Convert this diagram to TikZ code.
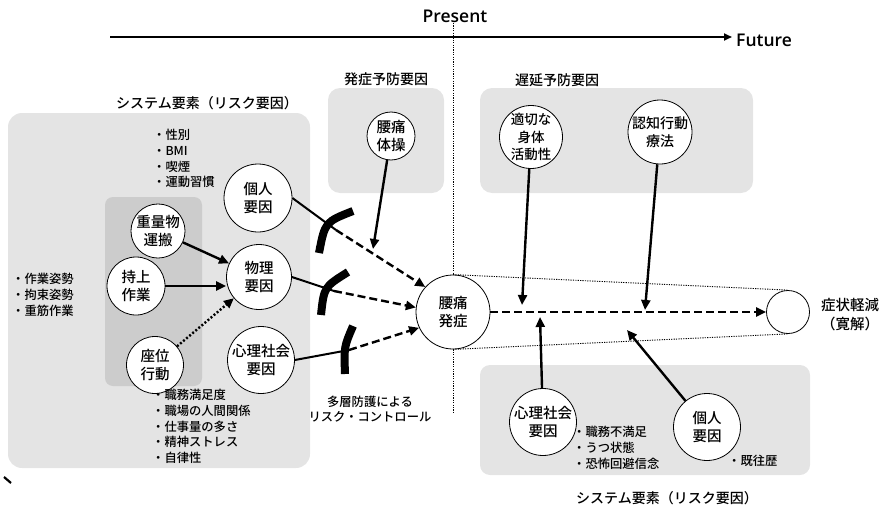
\documentclass[tikz,border=0pt]{standalone}
\usepackage{fontspec}
\setmainfont{Noto Sans CJK JP}[UprightFont=* Medium]
\newfontfamily\latinfont{Open Sans}[UprightFont=* Semibold]
\usetikzlibrary{arrows.meta}
\definecolor{boxgray}{RGB}{228,228,228}
\definecolor{innergray}{RGB}{204,204,204}
\begin{document}
\begin{tikzpicture}[x=1pt,y=-1pt,
  circ/.style={circle, draw, fill=white, line width=0.8pt, inner sep=0pt, align=center,
    font=\fontsize{14.5}{18.5}\selectfont},
  listtxt/.style={inner sep=0pt, align=left, anchor=north west,
    font=\fontsize{12.3}{15.8}\selectfont},
  ttl/.style={inner sep=0pt, font=\fontsize{14}{16}\selectfont},
  arr/.style={line width=2.4pt, -{Triangle[length=10pt,width=9pt]}},
  darr/.style={arr, dash pattern=on 8pt off 4pt},
  dotarr/.style={arr, dash pattern=on 2pt off 2pt},
  solidln/.style={line width=2pt},
  barrier/.style={line width=8pt, line cap=butt},
  thindot/.style={line width=0.9pt, dash pattern=on 1.2pt off 1.2pt},
]
\useasboundingbox (0,0) rectangle (894,511);

% boxes
\fill[boxgray, rounded corners=14pt] (8,113) rectangle (310,468);
\fill[innergray, rounded corners=8pt] (105,197) rectangle (202,386);
\fill[boxgray, rounded corners=12pt] (328,88) rectangle (444,193);
\fill[boxgray, rounded corners=12pt] (480,88) rectangle (753,193);
\fill[boxgray, rounded corners=10pt] (480,365) rectangle (810,475);

% titles
\node[ttl] (tsys) at (207,103) {システム要素（リスク要因）};
\node[ttl] (tonset) at (386,79) {発症予防要因};
\node[ttl] (tdelay) at (557,80) {遅延予防要因};
\node[ttl] (tsysR) at (667,498) {システム要素（リスク要因）};

% timeline
\node[inner sep=0pt, font=\latinfont\fontsize{17.5}{20}\selectfont] (present) at (455,16) {Present};
\node[inner sep=0pt, anchor=west, font=\latinfont\fontsize{17.5}{20}\selectfont] (future) at (736,40) {Future};
\coordinate (tstart) at (110,37);
\coordinate (tend) at (732,37);
\draw[line width=1.8pt, -{Triangle[length=8pt,width=7pt]}] (tstart) -- (tend);

% circles
\node[circ, minimum size=48pt] (taiso) at (391,136) {腰痛\\体操};
\node[circ, minimum size=68pt] (indiv) at (258,198) {個人\\要因};
\node[circ, minimum size=54pt] (heavy) at (158,231) {重量物\\運搬};
\node[circ, minimum size=65pt] (phys) at (259,277) {物理\\要因};
\node[circ, minimum size=58pt] (lift) at (136,286) {持上\\作業};
\node[circ, minimum size=57pt] (sit) at (155,365) {座位\\行動};
\node[circ, minimum size=67pt] (psy) at (261,360) {心理社会\\要因};
\node[circ, minimum size=74pt] (onset) at (453,312) {腰痛\\発症};
\node[circ, minimum size=63pt, font=\fontsize{13.5}{17.5}\selectfont] (active) at (531,137) {適切な\\身体\\活動性};
\node[circ, minimum size=64pt, font=\fontsize{14}{18}\selectfont] (cbt) at (660,132) {認知行動\\療法};
\node[circ, minimum size=43pt] (relief) at (788,312) {};
\node[circ, minimum size=67pt] (psyR) at (543,422) {心理社会\\要因};
\node[circ, minimum size=67pt] (indivR) at (707,427) {個人\\要因};

% relief label
\node[inner sep=0pt, anchor=west, align=left, font=\fontsize{14.5}{19}\selectfont] (relieftxt) at (821,315) {症状軽減\\（寛解）};

% lists
\node[listtxt] (l1) at (153,129) {・性別\\・BMI\\・喫煙\\・運動習慣};
\node[listtxt] (l2) at (12,273) {・作業姿勢\\・拘束姿勢\\・重筋作業};
\node[listtxt] (l3) at (152,389) {・職務満足度\\・職場の人間関係\\・仕事量の多さ\\・精神ストレス\\・自律性};
\node[listtxt] (l4) at (573,426) {・職務不満足\\・うつ状態\\・恐怖回避信念};
\node[listtxt] (l5) at (728,455) {・既往歴};
\node[inner sep=0pt, align=center, font=\fontsize{12.3}{15.5}\selectfont] (multi) at (370,409) {多層防護による\\リスク・コントロール};

% present line and cone
\coordinate (pbot) at (453,412);
\draw[thindot] (453,23) -- (onset.north);
\draw[thindot] (onset.south) -- (pbot);
\draw[thindot] (onset.north) -- (relief.north);
\draw[thindot] (onset.south) -- (relief.south);

% barriers
\coordinate (b1) at (336,230);
\coordinate (b2) at (334,291);
\coordinate (b3) at (349,350);
\draw[barrier] (319,253) .. controls (325,222) .. (353,211);
\draw[barrier] (321,315) .. controls (324,287) .. (348,272);
\draw[barrier] (345,374) .. controls (344,347) .. (353,326);

% risk paths
\draw[solidln] (indiv.east) -- (b1);
\draw[darr] (b1) -- (onset.138);
\draw[solidln] (phys.east) -- (b2);
\draw[darr] (b2) -- (onset.173);
\draw[solidln] (psy.east) -- (b3);
\draw[darr] (b3) -- (onset.205);

% inner arrows
\draw[arr] (heavy) -- (phys);
\draw[arr] (lift.east) -- (lift.east -| phys.west);
\draw[dotarr] (sit) -- (phys);

% prevention arrows
\coordinate (t1) at (373,249);
\draw[arr] (taiso) -- (t1);
\draw[darr] (onset) -- (relief);
\coordinate (a1) at (522,305);
\coordinate (a2) at (645,310);
\coordinate (a3) at (540,317);
\coordinate (a4) at (627,330);
\draw[arr] (active) -- (a1);
\draw[arr] (cbt) -- (a2);
\draw[arr] (psyR) -- (a3);
\draw[arr] (indivR) -- (a4);

% stray mark
\coordinate (s1) at (4,477);
\coordinate (s2) at (11,483);
\draw[line width=2.2pt] (s1) -- (s2);
\end{tikzpicture}
\end{document}
